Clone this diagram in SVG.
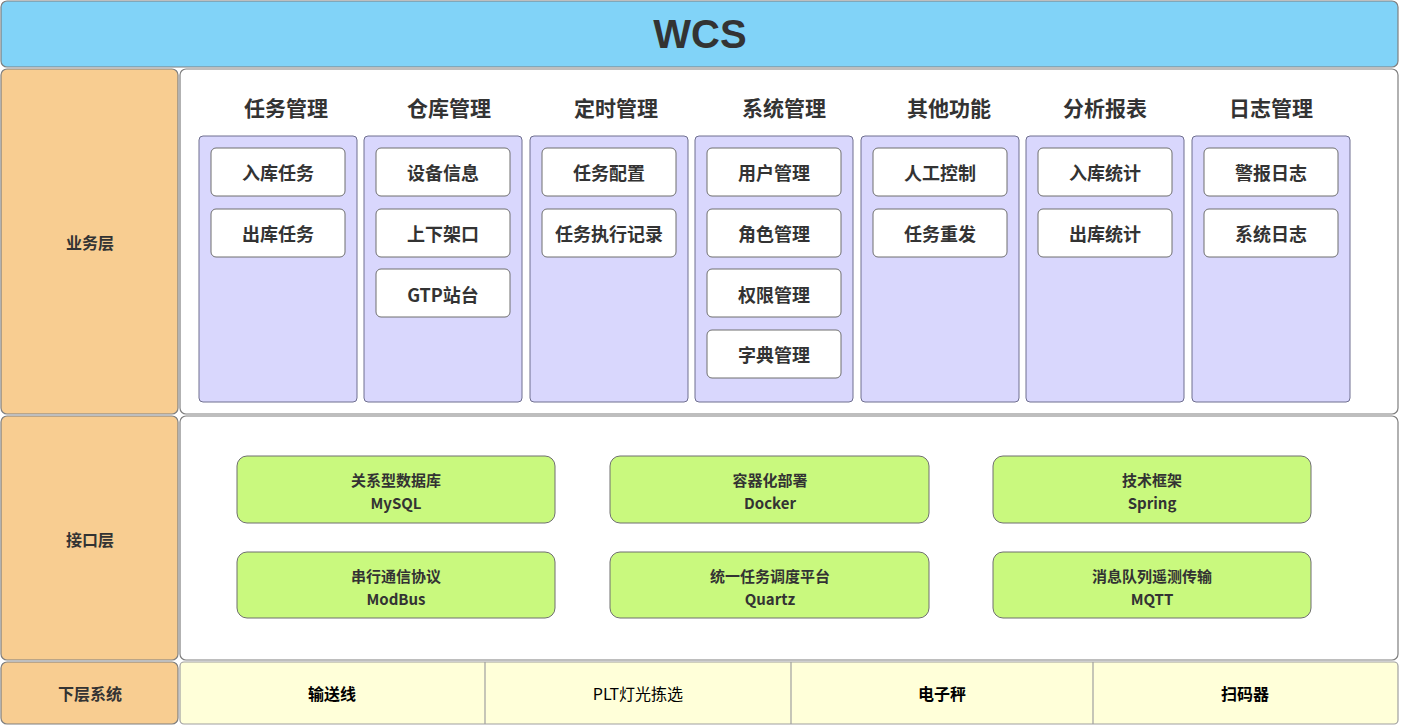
<svg xmlns="http://www.w3.org/2000/svg" width="1402" height="728" viewBox="0 0 1402 728">
<style>
text{font-family:"Noto Sans CJK SC","Noto Sans",sans-serif;font-weight:bold;fill:#333;text-anchor:middle;dominant-baseline:central}
.lay{fill:#f8cd91;stroke:#7f7f7f;stroke-width:1.2}
.pan{fill:#fff;stroke:#7f7f7f;stroke-width:1.2}
.col{fill:#d9d7fd;stroke:#6f6f8f;stroke-width:1}
.it{fill:#fff;stroke:#6f6f6f;stroke-width:1}
.gr{fill:#c9f97e;stroke:#6f6f6f;stroke-width:1}
.h{font-size:21px}
.i{font-size:18px}
.g{font-size:15px}
.l{font-size:16px}
</style>
<rect width="1402" height="728" fill="#fff"/>
<g id="title"><rect x="1" y="1" width="1397" height="66" rx="6" fill="#81d3f8" stroke="#7f7f7f" stroke-width="1.2"/><text x="700" y="34" style="font-size:40px;font-family:'Liberation Sans',sans-serif">WCS</text></g>
<g id="layer-biz"><rect class="lay" x="1" y="69" width="177" height="345" rx="6"/><text class="l" x="90" y="242">业务层</text></g>
<g id="layer-if"><rect class="lay" x="1" y="416" width="177" height="244" rx="6"/><text class="l" x="90" y="539">接口层</text></g>
<g id="layer-low"><rect class="lay" x="1" y="662" width="177" height="62" rx="6"/><text class="l" x="90" y="693">下层系统</text></g>
<g id="biz-panel"><rect class="pan" x="180" y="69" width="1218" height="345" rx="6"/></g>
<g id="if-panel"><rect class="pan" x="180" y="416" width="1218" height="244" rx="6"/></g>
<g id="c1"><text class="h" x="286" y="107">任务管理</text><rect class="col" x="199" y="136" width="158" height="266" rx="4"/>
<rect class="it" x="211" y="148" width="134" height="48" rx="5"/><text class="i" x="278" y="172">入库任务</text>
<rect class="it" x="211" y="209" width="134" height="48" rx="5"/><text class="i" x="278" y="233">出库任务</text></g>
<g id="c2"><text class="h" x="449" y="107">仓库管理</text><rect class="col" x="364" y="136" width="158" height="266" rx="4"/>
<rect class="it" x="376" y="148" width="134" height="48" rx="5"/><text class="i" x="443" y="172">设备信息</text>
<rect class="it" x="376" y="209" width="134" height="48" rx="5"/><text class="i" x="443" y="233">上下架口</text>
<rect class="it" x="376" y="269" width="134" height="48" rx="5"/><text class="i" x="443" y="294">GTP站台</text></g>
<g id="c3"><text class="h" x="616" y="107">定时管理</text><rect class="col" x="530" y="136" width="158" height="266" rx="4"/>
<rect class="it" x="542" y="148" width="134" height="48" rx="5"/><text class="i" x="609" y="172">任务配置</text>
<rect class="it" x="542" y="209" width="134" height="48" rx="5"/><text class="i" x="609" y="233">任务执行记录</text></g>
<g id="c4"><text class="h" x="784" y="107">系统管理</text><rect class="col" x="695" y="136" width="158" height="266" rx="4"/>
<rect class="it" x="707" y="148" width="134" height="48" rx="5"/><text class="i" x="774" y="172">用户管理</text>
<rect class="it" x="707" y="209" width="134" height="48" rx="5"/><text class="i" x="774" y="233">角色管理</text>
<rect class="it" x="707" y="269" width="134" height="48" rx="5"/><text class="i" x="774" y="294">权限管理</text>
<rect class="it" x="707" y="330" width="134" height="48" rx="5"/><text class="i" x="774" y="354">字典管理</text></g>
<g id="c5"><text class="h" x="949" y="107">其他功能</text><rect class="col" x="861" y="136" width="158" height="266" rx="4"/>
<rect class="it" x="873" y="148" width="134" height="48" rx="5"/><text class="i" x="940" y="172">人工控制</text>
<rect class="it" x="873" y="209" width="134" height="48" rx="5"/><text class="i" x="940" y="233">任务重发</text></g>
<g id="c6"><text class="h" x="1105" y="107">分析报表</text><rect class="col" x="1026" y="136" width="158" height="266" rx="4"/>
<rect class="it" x="1038" y="148" width="134" height="48" rx="5"/><text class="i" x="1105" y="172">入库统计</text>
<rect class="it" x="1038" y="209" width="134" height="48" rx="5"/><text class="i" x="1105" y="233">出库统计</text></g>
<g id="c7"><text class="h" x="1271" y="107">日志管理</text><rect class="col" x="1192" y="136" width="158" height="266" rx="4"/>
<rect class="it" x="1204" y="148" width="134" height="48" rx="5"/><text class="i" x="1271" y="172">警报日志</text>
<rect class="it" x="1204" y="209" width="134" height="48" rx="5"/><text class="i" x="1271" y="233">系统日志</text></g>
<g id="g1"><rect class="gr" x="237" y="456" width="318" height="67" rx="10"/><text class="g" x="396" y="479">关系型数据库</text><text class="g" x="396" y="502">MySQL</text></g>
<g id="g2"><rect class="gr" x="610" y="456" width="319" height="67" rx="10"/><text class="g" x="770" y="479">容器化部署</text><text class="g" x="770" y="502">Docker</text></g>
<g id="g3"><rect class="gr" x="993" y="456" width="318" height="67" rx="10"/><text class="g" x="1152" y="479">技术框架</text><text class="g" x="1152" y="502">Spring</text></g>
<g id="g4"><rect class="gr" x="237" y="552" width="318" height="66" rx="10"/><text class="g" x="396" y="575">串行通信协议</text><text class="g" x="396" y="598">ModBus</text></g>
<g id="g5"><rect class="gr" x="610" y="552" width="319" height="66" rx="10"/><text class="g" x="770" y="575">统一任务调度平台</text><text class="g" x="770" y="598">Quartz</text></g>
<g id="g6"><rect class="gr" x="993" y="552" width="318" height="66" rx="10"/><text class="g" x="1152" y="575">消息队列遥测传输</text><text class="g" x="1152" y="598">MQTT</text></g>
<g id="low">
<rect x="180" y="662" width="1218" height="62" rx="4" fill="#ffffd9" stroke="#a0a0a0" stroke-width="1.2"/>
<path d="M485 662V724M791 662V724M1093 662V724" stroke="#a0a0a0" stroke-width="1.2"/>
<text class="l" x="332" y="693" style="fill:#000">输送线</text>
<text class="l" x="638" y="693" style="fill:#000;font-weight:normal">PLT灯光拣选</text>
<text class="l" x="942" y="693" style="fill:#000">电子秤</text>
<text class="l" x="1245" y="693" style="fill:#000">扫码器</text>
</g>
<g id="connectors"/>
</svg>
